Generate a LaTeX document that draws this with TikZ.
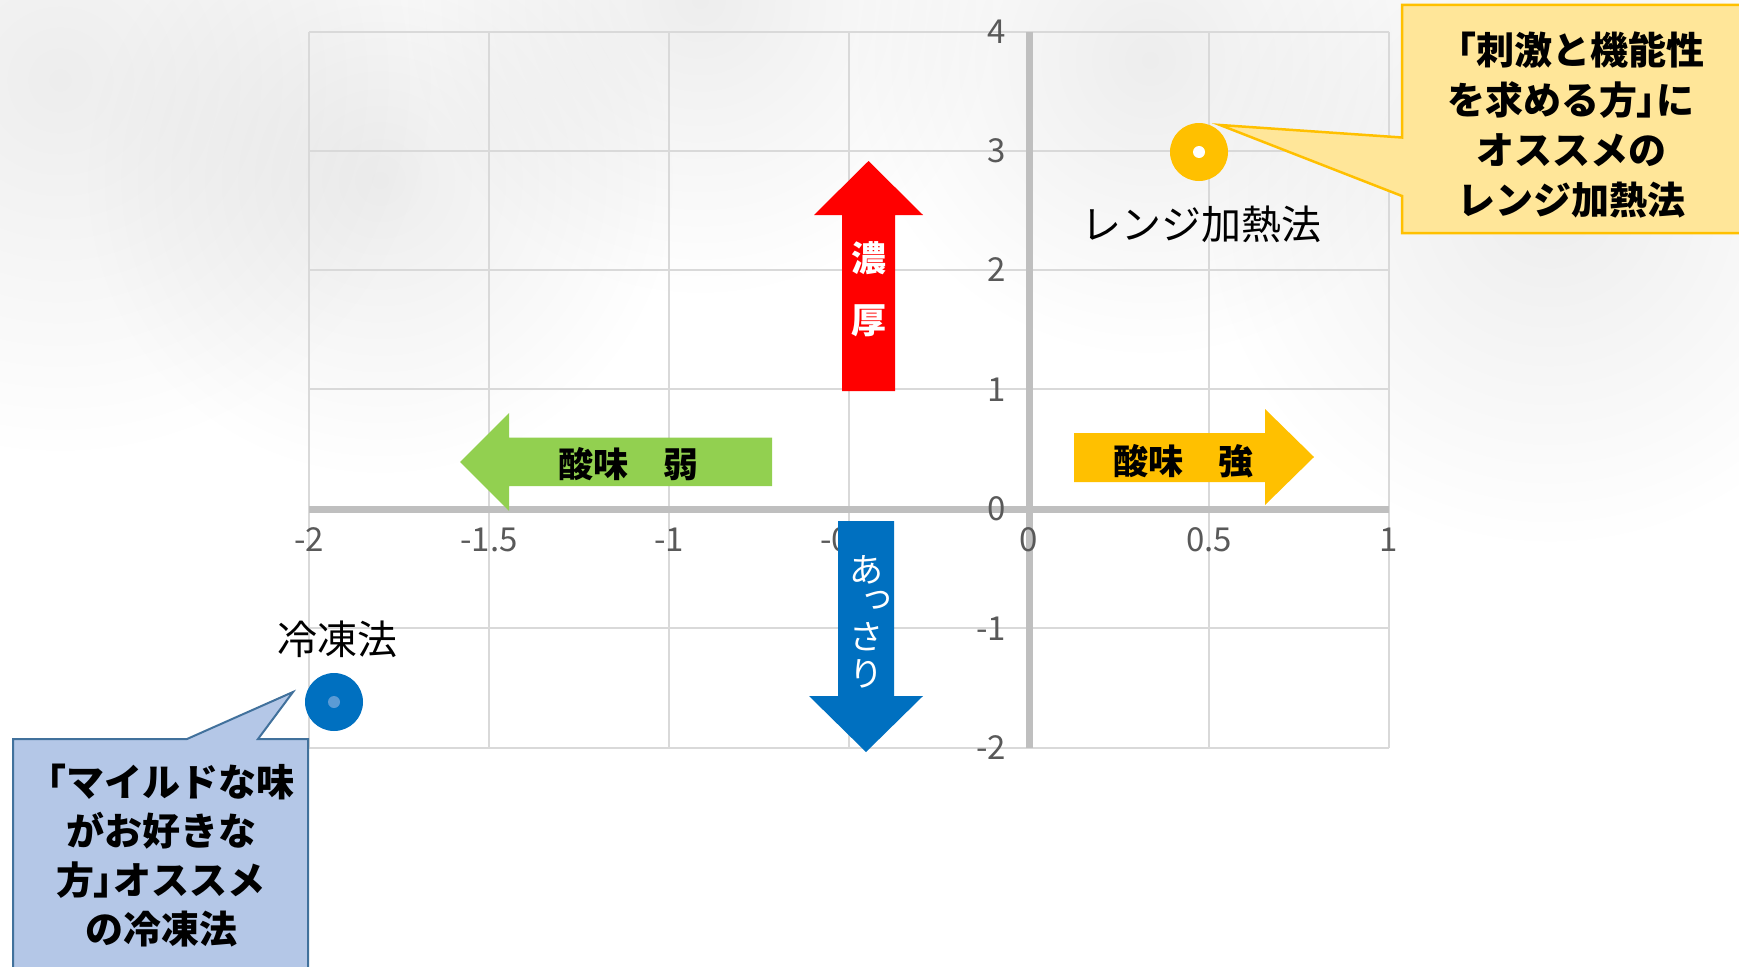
\documentclass[tikz,border=0pt]{standalone}
\usepackage{fontspec}
\usetikzlibrary{fadings}
\setmainfont{Noto Sans CJK JP}
\definecolor{gridc}{HTML}{D9D9D9}
\definecolor{axisc}{HTML}{BFBFBF}
\definecolor{tickc}{HTML}{595959}
\definecolor{redA}{HTML}{FF0000}
\definecolor{greenA}{HTML}{92D050}
\definecolor{yellowA}{HTML}{FFC000}
\definecolor{blueA}{HTML}{0070C0}
\definecolor{yfill}{HTML}{FFE699}
\definecolor{bfill}{HTML}{B4C7E7}
\definecolor{bborder}{HTML}{41719C}
\definecolor{bdot}{HTML}{5B9BD5}
\tikzfading[name=softblob, inner color=transparent!0, outer color=transparent!100]
\newcommand\nkb{{\addfontfeature{RawFeature=+palt}」}}
\begin{document}
\begin{tikzpicture}[x=1pt,y=-1pt,
  gridline/.style={draw=gridc, line width=2pt},
  axisline/.style={draw=axisc, line width=7pt},
  ticklab/.style={font=\fontsize{33}{33}\selectfont, text=tickc, inner sep=0pt},
  arrowtxt/.style={font=\fontsize{35}{35}\selectfont\bfseries, inner sep=0pt},
  ptlab/.style={font=\fontsize{40}{40}\selectfont, inner sep=0pt},
  calltxt/.style={font=\fontsize{38}{50}\selectfont\bfseries, align=center, inner sep=0pt},
  bgblob/.style={fill=black, opacity=0.07, path fading=softblob}
]
\useasboundingbox (0,0) rectangle (1739,966);
\fill[white] (0,0) rectangle (1739,966);
% faint background
\fill[bgblob] (60,80) circle (380);
\fill[bgblob] (380,180) circle (300);
\fill[bgblob] (700,0) circle (300);
\fill[bgblob] (1150,60) circle (300);
\fill[bgblob] (1550,200) circle (350);
% grid
\foreach \gx in {309,489,669,849,1209,1389}
  \draw[gridline] (\gx,32) -- (\gx,747.5);
\foreach \gy in {32,150.75,270,389.25,628.25,747.5}
  \draw[gridline] (309,\gy) -- (1389,\gy);
% axes
\draw[axisline] (309,509) -- (1389,509);
\draw[axisline] (1029,32) -- (1029,747.5);
% tick labels
\node[ticklab] (xa) at (309,540) {-2};
\node[ticklab] (xb) at (489,540) {-1.5};
\node[ticklab] (xc) at (669,540) {-1};
\node[ticklab] (xd) at (849,540) {-0.5};
\node[ticklab] (xe) at (1029,540) {0};
\node[ticklab] (xf) at (1209,540) {0.5};
\node[ticklab] (xg) at (1389,540) {1};
\node[ticklab, anchor=east] (ya) at (1006,32) {4};
\node[ticklab, anchor=east] (yb) at (1006,150.75) {3};
\node[ticklab, anchor=east] (yc) at (1006,270) {2};
\node[ticklab, anchor=east] (yd) at (1006,389.25) {1};
\node[ticklab, anchor=east] (ye) at (1006,509) {0};
\node[ticklab, anchor=east] (yf) at (1006,628.25) {-1};
\node[ticklab, anchor=east] (yg) at (1006,747.5) {-2};
% red arrow up
\fill[redA] (842,391) -- (842,215) -- (814,215) -- (868.5,161) -- (923,215) -- (895,215) -- (895,391) -- cycle;
\node[arrowtxt, text=white] (noh) at (868.5,258) {濃};
\node[arrowtxt, text=white] (kou) at (868.5,321) {厚};
% green arrow left
\fill[greenA] (772,437.5) -- (509,437.5) -- (509,413) -- (460,462) -- (509,511) -- (509,486) -- (772,486) -- cycle;
\node[arrowtxt] (weak) at (628,464) {酸味　弱};
% yellow arrow right
\fill[yellowA] (1074,433) -- (1265,433) -- (1265,409) -- (1314,457) -- (1265,505) -- (1265,482) -- (1074,482) -- cycle;
\node[arrowtxt] (strong) at (1183,461) {酸味　強};
% blue arrow down
\fill[blueA] (838,521) -- (894,521) -- (894,696) -- (923,696) -- (866,752) -- (809,696) -- (838,696) -- cycle;
\begin{scope}[every node/.style={font=\fontsize{34}{34}\selectfont, text=white, inner sep=0pt}]
\node (a1) at (866,570) {あ};
\node (a2) at (877,600) {っ};
\node (a3) at (866,637) {さ};
\node (a4) at (866,674) {り};
\end{scope}
% data points
\fill[yellowA] (1199,152) circle (29);
\fill[white] (1199,152) circle (6);
\coordinate (ypt) at (1199,152);
\node[ptlab] (ylab) at (1201,224) {レンジ加熱法};
\fill[blueA] (334,702) circle (29);
\fill[bdot] (334,702) circle (6);
\coordinate (bpt) at (334,702);
\node[ptlab] (blab) at (337,639) {冷凍法};
% yellow callout
\filldraw[fill=yfill, draw=yellowA, line width=2.5pt]
  (1402,5) -- (1760,5) -- (1760,233) -- (1402,233) -- (1402,196) -- (1220,125) -- (1402,137.5) -- cycle;
\node[calltxt] (ycall) at (1571,125) {「刺激と機能性\\を求める方\nkb に\\オススメの\\レンジ加熱法};
% blue callout
\filldraw[fill=bfill, draw=bborder, line width=2pt]
  (13,739) -- (187,739) -- (293,692) -- (258,739) -- (308,739) -- (308,990) -- (13,990) -- cycle;
\node[calltxt, font=\fontsize{38}{49}\selectfont\bfseries] (bcall) at (161,856) {「マイルドな味\\がお好きな\\方\nkb オススメ\\の冷凍法};
\end{tikzpicture}
\end{document}
